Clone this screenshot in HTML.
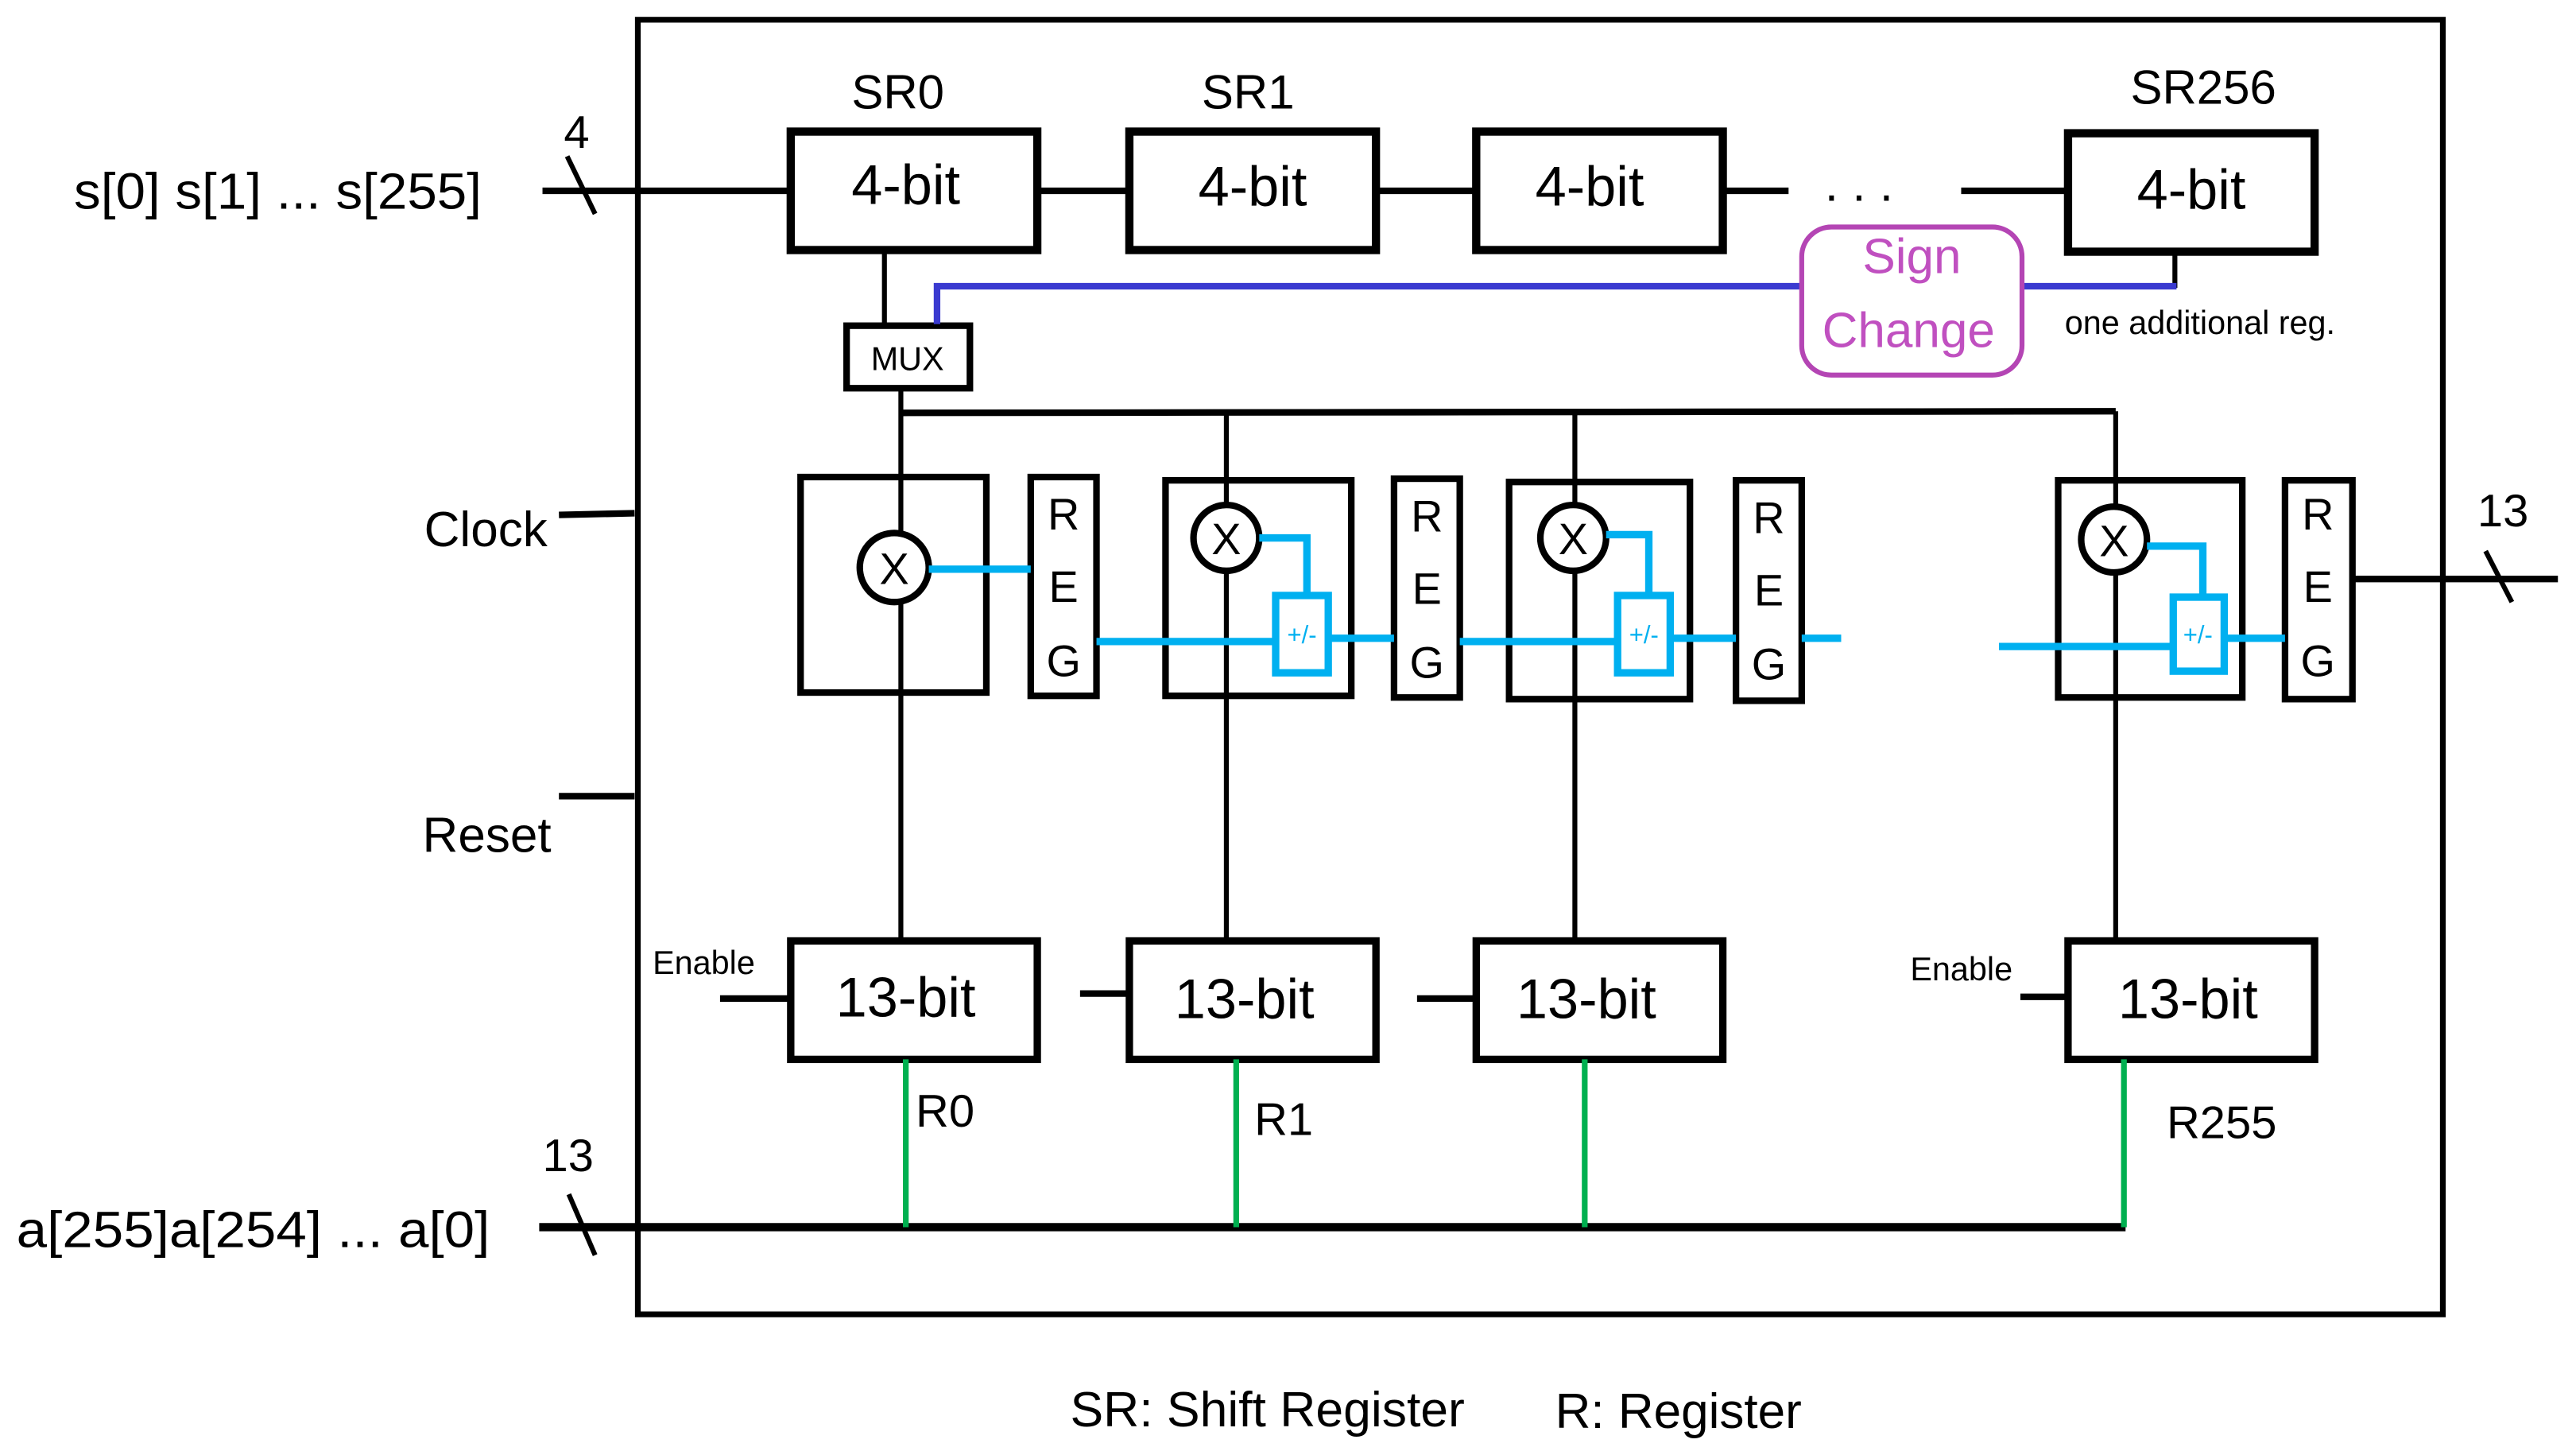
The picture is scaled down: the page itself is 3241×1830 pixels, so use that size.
<!DOCTYPE html>
<html><head><meta charset="utf-8"><style>html,body{margin:0;padding:0;background:#fff}svg{display:block}</style></head>
<body>
<svg width="3241" height="1830" viewBox="0 0 1567 884.5" preserveAspectRatio="none" xmlns="http://www.w3.org/2000/svg" font-family="Liberation Sans Narrow, Liberation Sans, sans-serif">
<rect x="0" y="0" width="1570" height="890" fill="#fff"/>
<g fill="none" stroke="#000">
<rect x="388" y="12" width="1098" height="787" stroke-width="3.5"/>
<line x1="330" y1="116" x2="481" y2="116" stroke-width="4"/>
<line x1="345" y1="95" x2="362" y2="130" stroke-width="3"/>
<rect x="481" y="80" width="150" height="72" stroke-width="5"/>
<rect x="687" y="80" width="150" height="72" stroke-width="5"/>
<rect x="898" y="80" width="150" height="72" stroke-width="5"/>
<rect x="1258" y="81" width="150" height="72" stroke-width="5"/>
<line x1="631" y1="116" x2="687" y2="116" stroke-width="4"/>
<line x1="837" y1="116" x2="898" y2="116" stroke-width="4"/>
<line x1="1048" y1="116" x2="1088" y2="116" stroke-width="4"/>
<line x1="1193" y1="116" x2="1258" y2="116" stroke-width="4"/>
<line x1="538" y1="152" x2="538" y2="197" stroke-width="3"/>
<line x1="1323" y1="153" x2="1323" y2="175" stroke-width="3"/>
<rect x="515" y="198" width="75" height="38" stroke-width="4"/>
<line x1="548" y1="236" x2="548" y2="572" stroke-width="3"/>
<line x1="548" y1="251" x2="1287" y2="250" stroke-width="4"/>
<line x1="746" y1="251" x2="746" y2="572" stroke-width="3"/>
<line x1="958" y1="251" x2="958" y2="572" stroke-width="3"/>
<line x1="1287" y1="250" x2="1287" y2="572" stroke-width="3"/>
<rect x="487" y="290" width="113" height="131" stroke-width="4"/>
<rect x="709" y="292" width="113" height="131" stroke-width="4"/>
<rect x="918" y="293" width="110" height="132" stroke-width="4"/>
<rect x="1252" y="292" width="112" height="132" stroke-width="4"/>
<rect x="627" y="290" width="40" height="133" stroke-width="4"/>
<rect x="848" y="291" width="40" height="133" stroke-width="4"/>
<rect x="1056" y="292" width="40" height="134" stroke-width="4"/>
<rect x="1390" y="292" width="41" height="133" stroke-width="4"/>
<g fill="#fff" stroke-width="4">
<circle cx="544" cy="345" r="21"/>
<circle cx="746" cy="327" r="20"/>
<circle cx="957" cy="327" r="20"/>
<circle cx="1286" cy="328" r="20"/>
</g>
<line x1="1431" y1="352" x2="1556" y2="352" stroke-width="4"/>
<line x1="1512" y1="335" x2="1528" y2="366" stroke-width="3"/>
<line x1="340" y1="313" x2="386" y2="312" stroke-width="4"/>
<line x1="340" y1="484" x2="386" y2="484" stroke-width="4"/>
<rect x="481" y="572" width="150" height="72" stroke-width="4.5"/>
<rect x="687" y="572" width="150" height="72" stroke-width="4.5"/>
<rect x="898" y="572" width="150" height="72" stroke-width="4.5"/>
<rect x="1258" y="572" width="150" height="72" stroke-width="4.5"/>
<line x1="438" y1="607" x2="481" y2="607" stroke-width="4"/>
<line x1="657" y1="604" x2="687" y2="604" stroke-width="4"/>
<line x1="862" y1="607" x2="898" y2="607" stroke-width="4"/>
<line x1="1229" y1="606" x2="1258" y2="606" stroke-width="4"/>
<line x1="328" y1="746" x2="1293" y2="746" stroke-width="5"/>
<line x1="346" y1="726" x2="362" y2="763" stroke-width="3"/>
</g>
<polyline points="570,197 570,174 1096,174" fill="none" stroke="#3a3ad0" stroke-width="4"/>
<line x1="1230" y1="174" x2="1324" y2="174" stroke="#3a3ad0" stroke-width="4"/>
<rect x="1096" y="138" width="134" height="90" rx="18" fill="#fff" stroke="#b445b4" stroke-width="3"/>
<g fill="none" stroke="#00b0f0" stroke-width="4.5">
<line x1="565" y1="346" x2="627" y2="346"/>
<line x1="667" y1="390" x2="775" y2="390"/>
<rect x="776" y="362" width="32" height="47"/>
<polyline points="766,327 795,327 795,362"/>
<line x1="808" y1="388" x2="848" y2="388"/>
<line x1="888" y1="390" x2="984" y2="390"/>
<rect x="984" y="362" width="32" height="47"/>
<polyline points="977,325 1003,325 1003,362"/>
<line x1="1016" y1="388" x2="1056" y2="388"/>
<line x1="1096" y1="388" x2="1120" y2="388"/>
<line x1="1216" y1="393" x2="1322" y2="393"/>
<rect x="1322" y="363" width="31" height="45"/>
<polyline points="1306,332 1340,332 1340,363"/>
<line x1="1353" y1="388" x2="1390" y2="388"/>
</g>
<g stroke="#00b050" stroke-width="3.5">
<line x1="551" y1="644" x2="551" y2="746"/>
<line x1="752" y1="644" x2="752" y2="746"/>
<line x1="964" y1="644" x2="964" y2="746"/>
<line x1="1292" y1="644" x2="1292" y2="746"/>
</g>
<g fill="#000">
<text x="45" y="127" font-size="31" textLength="248" lengthAdjust="spacingAndGlyphs">s[0] s[1] ... s[255]</text>
<text x="343" y="90" font-size="28">4</text>
<text x="518" y="66" font-size="29">SR0</text>
<text x="731" y="66" font-size="29">SR1</text>
<text x="1296" y="63" font-size="29">SR256</text>
<g font-size="34" text-anchor="middle">
<text x="551" y="124">4-bit</text>
<text x="762" y="125">4-bit</text>
<text x="967" y="125">4-bit</text>
<text x="1333" y="127">4-bit</text>
<text x="551" y="618">13-bit</text>
<text x="757" y="619">13-bit</text>
<text x="965" y="619">13-bit</text>
<text x="1331" y="619">13-bit</text>
</g>
<text x="1110" y="122" font-size="30">. . .</text>
<text x="552" y="225" font-size="20" text-anchor="middle">MUX</text>
<text x="1256" y="203" font-size="20">one additional reg.</text>
<g font-size="27" text-anchor="middle">
<text x="544" y="355">X</text>
<text x="746" y="337">X</text>
<text x="957" y="337">X</text>
<text x="1286" y="338">X</text>
</g>
<g font-size="27" text-anchor="middle">
<text x="647" y="322">R</text><text x="647" y="366">E</text><text x="647" y="411">G</text>
<text x="868" y="323">R</text><text x="868" y="367">E</text><text x="868" y="412">G</text>
<text x="1076" y="324">R</text><text x="1076" y="368">E</text><text x="1076" y="413">G</text>
<text x="1410" y="322">R</text><text x="1410" y="366">E</text><text x="1410" y="411">G</text>
</g>
<text x="1507" y="320" font-size="28">13</text>
<text x="258" y="332" font-size="30">Clock</text>
<text x="257" y="518" font-size="30">Reset</text>
<text x="397" y="592" font-size="20">Enable</text>
<text x="1162" y="596" font-size="20">Enable</text>
<text x="557" y="685" font-size="28">R0</text>
<text x="763" y="690" font-size="28">R1</text>
<text x="1318" y="692" font-size="28">R255</text>
<text x="330" y="712" font-size="28">13</text>
<text x="10" y="758" font-size="31" textLength="288" lengthAdjust="spacingAndGlyphs">a[255]a[254] ... a[0]</text>
<text x="651" y="867" font-size="30" textLength="240" lengthAdjust="spacingAndGlyphs">SR: Shift Register</text>
<text x="946" y="868" font-size="30" textLength="150" lengthAdjust="spacingAndGlyphs">R: Register</text>
</g>
<g fill="#00b0f0" font-size="15" text-anchor="middle">
<text x="792" y="391">+/-</text>
<text x="1000" y="391">+/-</text>
<text x="1337" y="391">+/-</text>
</g>
<g fill="#c050c0" font-size="30" text-anchor="middle">
<text x="1163" y="166">Sign</text>
<text x="1161" y="211">Change</text>
</g>
</svg>
</body></html>
